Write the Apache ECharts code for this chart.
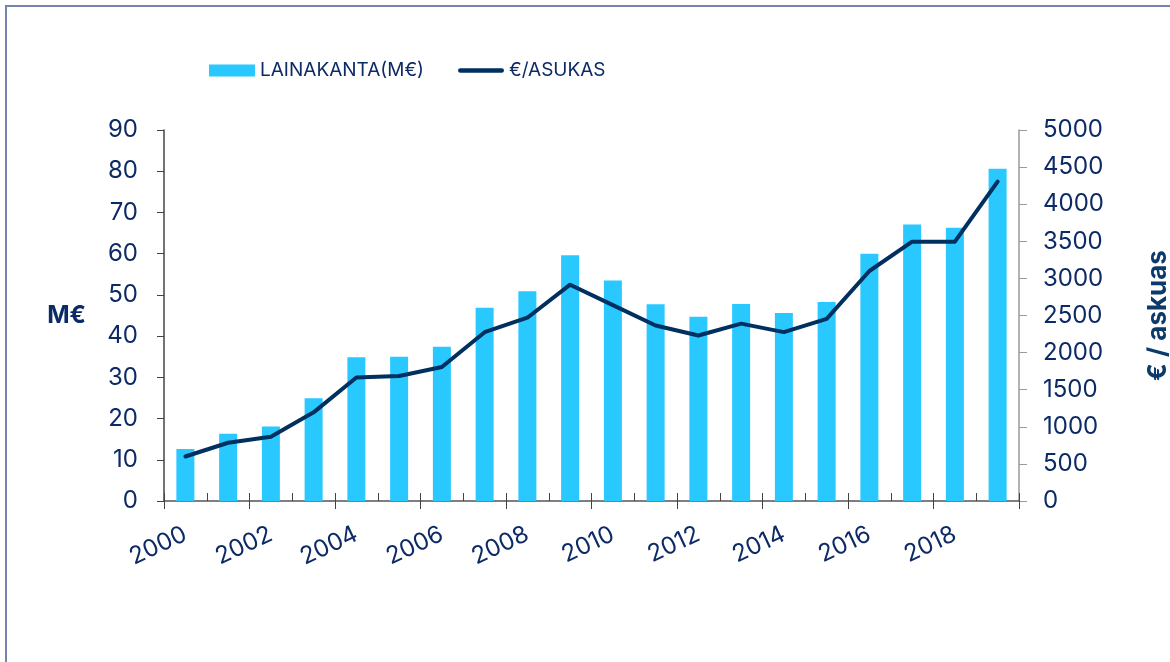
<!DOCTYPE html>
<html>
<head>
<meta charset="utf-8">
<script src="https://cdn.jsdelivr.net/npm/echarts@6/dist/echarts.min.js"></script>
<style>
html,body{margin:0;padding:0;background:#fff;}
#c{width:1170px;height:662px;}
</style>
</head>
<body>
<div id="c"></div>
<script>
const years = ['2000','2001','2002','2003','2004','2005','2006','2007','2008','2009','2010','2011','2012','2013','2014','2015','2016','2017','2018','2019'];
const lainakanta = [12.6,16.3,18.1,24.9,34.9,35.0,37.4,46.9,50.9,59.6,53.5,47.7,44.7,47.8,45.6,48.3,60.0,67.1,66.3,80.6];
const perAsukas = [600,785,865,1195,1665,1685,1805,2275,2470,2915,2640,2366,2231,2390,2276,2455,3100,3495,3495,4305];
const leftTicks = {min:0, max:90, interval:10};
const rightTicks = {min:0, max:5000, interval:500};

const navy = '#0c2b66';
const font = 'Inter, "Noto Sans", sans-serif';
const chart = echarts.init(document.getElementById('c'));
chart.setOption({
  animation:false,
  textStyle:{fontFamily:font},
  graphic:[{type:'rect', shape:{x:6,y:6,width:1200,height:700}, style:{fill:'none', stroke:'#7585ad', lineWidth:2}, silent:true}],
  legend:{
    left:204, top:56, itemGap:34, itemWidth:46, itemHeight:12,
    textStyle:{color:navy, fontSize:19, fontFamily:font},
    data:[
      {name:'LAINAKANTA(M€)', icon:'rect'},
      {name:'€/ASUKAS', icon:'path://M2.5,0 L46.5,0 A2.5,2.5 0 0 1 46.5,5 L2.5,5 A2.5,2.5 0 0 1 2.5,0 Z'}
    ]
  },
  grid:{left:164, right:151, top:130, bottom:161, containLabel:false, outerBoundsMode:'none'},
  xAxis:[{
    type:'category', data:years, position:'bottom',
    axisLine:{lineStyle:{color:'#555', width:1.5}},
    axisTick:{show:true, length:8, lineStyle:{color:'#444'}},
    axisLabel:{interval:1, rotate:25, color:navy, fontSize:24, margin:32, fontFamily:font}
  },{
    type:'category', data:years, position:'bottom',
    axisLine:{show:false},
    axisTick:{show:true, inside:true, length:8, lineStyle:{color:'#444'}},
    axisLabel:{show:false}
  }],
  yAxis:[{
    type:'value', min:leftTicks.min, max:leftTicks.max, interval:leftTicks.interval,
    name:'M€', nameLocation:'middle', nameRotate:0, nameGap:78,
    nameTextStyle:{color:navy, fontSize:24, fontWeight:'bold', fontFamily:font},
    axisLine:{show:true, lineStyle:{color:'#444', width:1.5}},
    axisTick:{show:true, length:7, lineStyle:{color:'#444'}},
    axisLabel:{color:navy, fontSize:24, margin:26, fontFamily:font},
    splitLine:{show:false}
  },{
    type:'value', min:rightTicks.min, max:rightTicks.max, interval:rightTicks.interval, position:'right',
    name:'€ / askuas', nameLocation:'middle', nameRotate:90, nameGap:126,
    nameTextStyle:{color:'#0c3a6b', fontSize:26, fontWeight:'bold', fontFamily:font},
    axisLine:{show:true, lineStyle:{color:'#9a9a9a', width:1.5}},
    axisTick:{show:true, length:8, lineStyle:{color:'#9a9a9a'}},
    axisLabel:{color:navy, fontSize:24, margin:24, fontFamily:font, formatter:v => String(v)},
    splitLine:{show:false}
  }],
  series:[{
    name:'LAINAKANTA(M€)', type:'bar', data:lainakanta, barWidth:18,
    itemStyle:{color:'#29c8ff'}, xAxisIndex:0, yAxisIndex:0
  },{
    name:'€/ASUKAS', type:'line', data:perAsukas, yAxisIndex:1, xAxisIndex:0,
    symbol:'none', lineStyle:{color:'#00305f', width:4, cap:'round', join:'round'},
    itemStyle:{color:'#00305f'}
  }]
});
</script>
</body>
</html>
